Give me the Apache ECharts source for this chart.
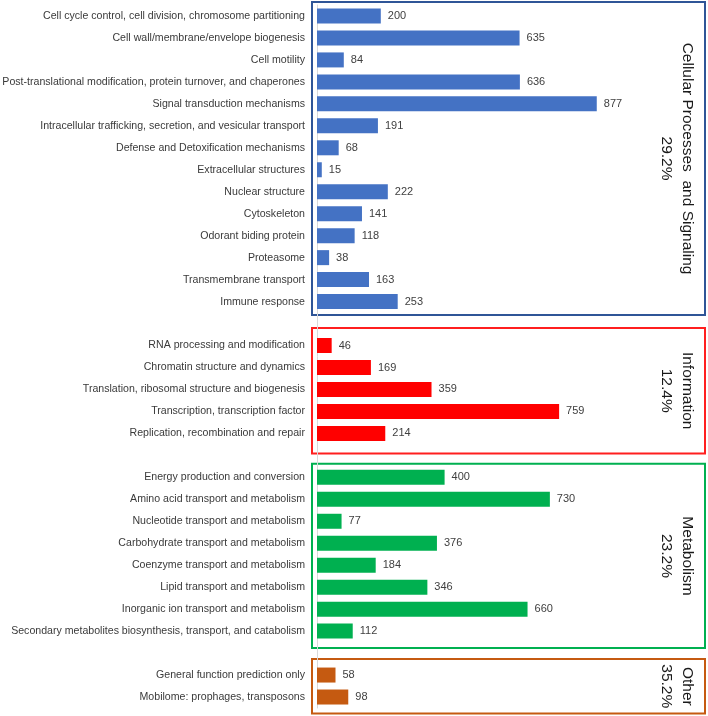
<!DOCTYPE html>
<html>
<head>
<meta charset="utf-8">
<script src="https://cdn.jsdelivr.net/npm/echarts@6/dist/echarts.min.js"></script>
<style>
html,body{margin:0;padding:0;background:#fff;}
#chart{width:708px;height:716px;}
</style>
</head>
<body>
<div id="chart"></div>
<script>
// ---- data ----
const cellularCategories = [
  'Cell cycle control, cell division, chromosome partitioning',
  'Cell wall/membrane/envelope biogenesis',
  'Cell motility',
  'Post-translational modification, protein turnover, and chaperones',
  'Signal transduction mechanisms',
  'Intracellular trafficking, secretion, and vesicular transport',
  'Defense and Detoxification mechanisms',
  'Extracellular structures',
  'Nuclear structure',
  'Cytoskeleton',
  'Odorant biding protein',
  'Proteasome',
  'Transmembrane transport',
  'Immune response'
];
const cellularValues = [200, 635, 84, 636, 877, 191, 68, 15, 222, 141, 118, 38, 163, 253];

const informationCategories = [
  'RNA processing and modification',
  'Chromatin structure and dynamics',
  'Translation, ribosomal structure and biogenesis',
  'Transcription, transcription factor',
  'Replication, recombination and repair'
];
const informationValues = [46, 169, 359, 759, 214];

const metabolismCategories = [
  'Energy production and conversion',
  'Amino acid transport and metabolism',
  'Nucleotide transport and metabolism',
  'Carbohydrate transport and metabolism',
  'Coenzyme transport and metabolism',
  'Lipid transport and metabolism',
  'Inorganic ion transport and metabolism',
  'Secondary metabolites biosynthesis, transport, and catabolism'
];
const metabolismValues = [400, 730, 77, 376, 184, 346, 660, 112];

const otherCategories = [
  'General function prediction only',
  'Mobilome: prophages, transposons'
];
const otherValues = [58, 98];

const groupTitles = ['Cellular Processes  and Signaling', 'Information', 'Metabolism', 'Other'];
const groupPercents = ['29.2%', '12.4%', '23.2%', '35.2%'];

// ---- styles ----
const barColors = ['#4472C4', '#FF0000', '#00B050', '#C55A11'];
const boxColors = ['#2F5597', '#FF1F1F', '#00B050', '#C55A11'];

// ---- build combined axis ----
const groups = [
  [cellularCategories, cellularValues],
  [informationCategories, informationValues],
  [metabolismCategories, metabolismValues],
  [otherCategories, otherValues]
];
const cats = [], vals = [], groupOf = [];
groups.forEach((g, gi) => {
  if (gi > 0) { cats.push(' '.repeat(gi)); vals.push(null); groupOf.push(-1); }
  g[0].forEach((c, i) => { cats.push(c); vals.push(g[1][i]); groupOf.push(gi); });
});

const chart = echarts.init(document.getElementById('chart'), null, {renderer: 'canvas'});
const FONT = 'Liberation Sans';

const option = {
  animation: false,
  backgroundColor: '#ffffff',
  grid: {left: 317, top: 5, height: 703, width: 319, containLabel: false, outerBoundsMode: 'none'},
  xAxis: {type: 'value', min: 0, max: 1000, show: false},
  yAxis: {
    type: 'category', inverse: true, data: cats,
    axisLine: {show: true, lineStyle: {color: '#d9d9d9', width: 1}},
    axisTick: {show: false},
    splitLine: {show: false},
    axisLabel: {color: '#3a3a3a', fontSize: 10.6, fontFamily: FONT, margin: 12, interval: 0,
      formatter: v => v.trim()}
  },
  series: [{
    type: 'bar', data: vals, barWidth: 15,
    itemStyle: {color: p => barColors[groupOf[p.dataIndex]] || '#000'},
    label: {show: true, position: 'right', distance: 7, color: '#404040', fontSize: 11, fontFamily: FONT}
  }],
  graphic: []
};
chart.setOption(option);

// boxes around groups, computed from category bands
const band = 703 / cats.length;
const boxSpecs = [];
let start = 0;
groups.forEach((g, gi) => {
  const first = start, last = start + g[0].length - 1;
  boxSpecs.push([first, last]);
  start = last + 2;
});
const topPad = [3, 6.5, 2.5, 5];
const botPad = [2.5, 9, 6, 5.5];
const graphics = [];
boxSpecs.forEach((b, gi) => {
  const yTop = chart.convertToPixel({yAxisIndex: 0}, cats[b[0]]) - band / 2 - topPad[gi];
  const yBot = chart.convertToPixel({yAxisIndex: 0}, cats[b[1]]) + band / 2 + botPad[gi];
  graphics.push({
    type: 'rect', silent: true,
    shape: {x: 312, y: yTop, width: 393, height: yBot - yTop},
    style: {fill: 'none', stroke: boxColors[gi], lineWidth: 2}
  });
  graphics.push({
    type: 'text', silent: true,
    x: 677, y: (yTop + yBot) / 2, rotation: -Math.PI / 2,
    style: {text: groupTitles[gi] + '\n' + groupPercents[gi], fill: '#1a1a1a', fontSize: 15.5,
      fontFamily: FONT, align: 'center', verticalAlign: 'middle', lineHeight: 21}
  });
});
chart.setOption({graphic: graphics});
</script>
</body>
</html>
